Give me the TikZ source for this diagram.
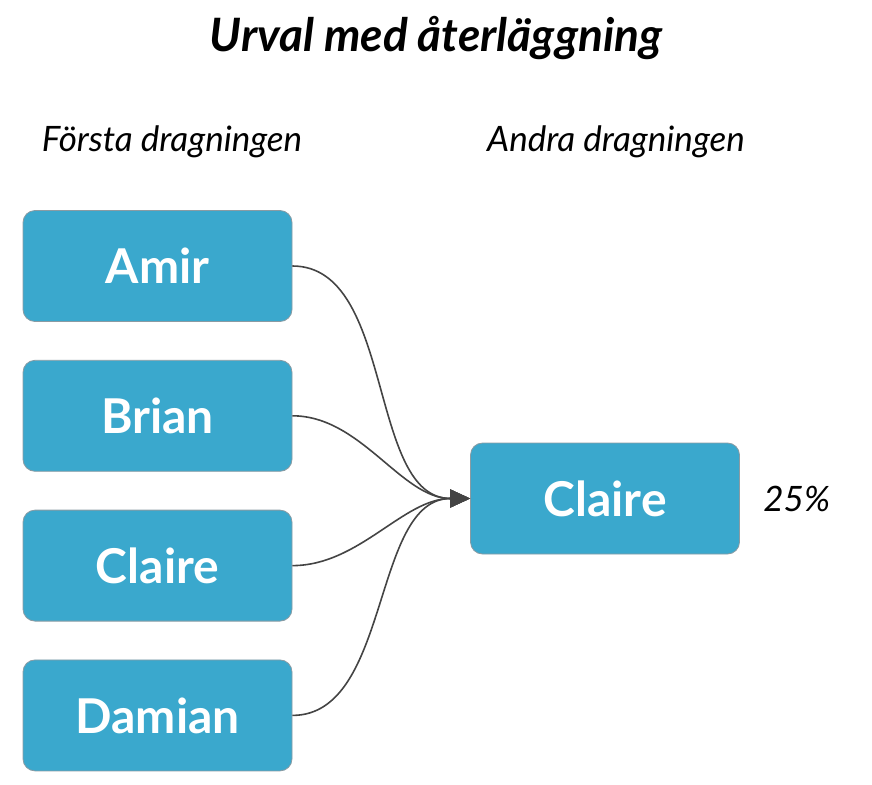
\documentclass[tikz,border=0pt]{standalone}
\usepackage{fontspec}
\setmainfont{Lato}
\usetikzlibrary{arrows.meta,positioning}
\definecolor{boxblue}{HTML}{3AA8CD}
\definecolor{boxedge}{HTML}{8A9BA3}
\definecolor{linegray}{HTML}{444444}
\begin{document}
\begin{tikzpicture}[x=1pt,y=-1pt]
\tikzset{%
	person/.style = {rectangle, rounded corners=12pt, fill=boxblue, draw=boxedge, line width=0.8pt, minimum width=269pt, minimum height=111pt, text=white, font=\fontsize{48}{52}\selectfont\bfseries},
	head/.style = {font=\fontsize{35}{40}\selectfont\itshape},
	link/.style = {linegray, line width=1.6pt, -{Triangle[length=20pt,width=18pt]}}
}
\useasboundingbox (0,0) rectangle (872,784);
\node(title) at (436,38) {\fontsize{46}{52}\selectfont\bfseries\itshape Urval med återläggning};
\node(h1) [head] at (172,142) {Första dragningen};
\node(h2) [head] at (616,142) {Andra dragningen};

\node(amir) [person] at (157.5,266) {Amir};
\node(brian) [person, below=38pt of amir] {Brian};
\node(claire) [person, below=38pt of brian] {Claire};
\node(damian) [person, below=38pt of claire] {Damian};

\node(pick) [person] at (605,498.5) {Claire};
\node(pct) [right=20pt of pick, font=\fontsize{35}{40}\selectfont\itshape] {25\%};

\foreach \n in {amir,brian,claire,damian}
	\draw [link] (\n.east) to [out=0, in=180, looseness=0.9] (pick.west);
\end{tikzpicture}
\end{document}
